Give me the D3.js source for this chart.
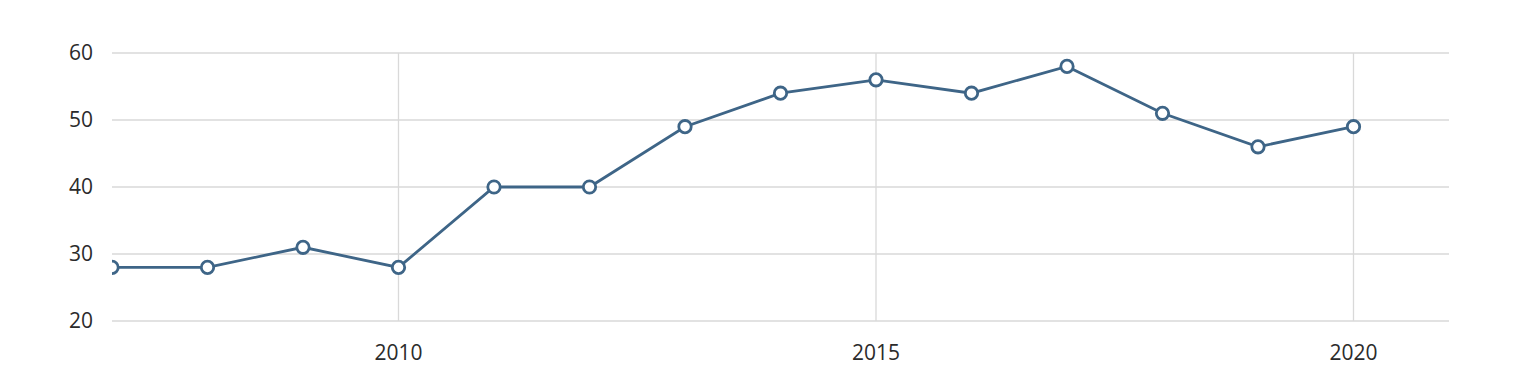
<!DOCTYPE html>
<html>
<head>
<meta charset="utf-8">
<script src="https://cdn.jsdelivr.net/npm/d3@7"></script>
<style>
  body { margin: 0; background: #fff; }
  svg { display: block; font-family: "Open Sans", "Noto Sans", sans-serif; }
</style>
</head>
<body>
<svg id="chart"></svg>
<script>
const width = 1525;
const height = 373;
const margin = { top: 53, right: 76, bottom: 52, left: 112 };

const years = [2007, 2008, 2009, 2010, 2011, 2012, 2013, 2014, 2015, 2016, 2017, 2018, 2019, 2020];
const values = [28, 28, 31, 28, 40, 40, 49, 54, 56, 54, 58, 51, 46, 49];
const yTicks = [20, 30, 40, 50, 60];
const xTicks = [2010, 2015, 2020];

const innerW = width - margin.left - margin.right;
const innerH = height - margin.top - margin.bottom;

const svg = d3.select("#chart")
    .attr("width", width)
    .attr("height", height);

const x = d3.scaleLinear()
    .domain([2007, 2021])
    .range([0, innerW]);

const y = d3.scaleLinear()
    .domain([20, 60])
    .range([innerH, 0]);

const g = svg.append("g")
    .attr("transform", `translate(${margin.left}, ${margin.top})`);

g.append("clipPath")
    .attr("id", "clip")
    .append("rect")
    .attr("width", innerW)
    .attr("height", innerH + 10)
    .attr("y", -10);

// horizontal grid lines
g.append("g")
    .selectAll("line")
    .data(yTicks)
    .enter()
    .append("line")
    .attr("x1", 0)
    .attr("x2", innerW)
    .attr("y1", d => y(d))
    .attr("y2", d => y(d))
    .attr("stroke", "#d9d9d9")
    .attr("stroke-width", 1.3);

// vertical grid lines
g.append("g")
    .selectAll("line")
    .data(xTicks)
    .enter()
    .append("line")
    .attr("x1", d => x(d))
    .attr("x2", d => x(d))
    .attr("y1", 0)
    .attr("y2", innerH)
    .attr("stroke", "#d9d9d9")
    .attr("stroke-width", 1.3);

// y labels
g.append("g")
    .selectAll("text")
    .data(yTicks)
    .enter()
    .append("text")
    .attr("x", -19)
    .attr("y", d => y(d))
    .attr("dy", "0.35em")
    .attr("text-anchor", "end")
    .attr("font-size", "21px")
    .attr("fill", "#2b2b2b")
    .text(d => d);

// x labels
g.append("g")
    .selectAll("text")
    .data(xTicks)
    .enter()
    .append("text")
    .attr("x", d => x(d))
    .attr("y", innerH + 32)
    .attr("dy", "0.35em")
    .attr("text-anchor", "middle")
    .attr("font-size", "21px")
    .attr("fill", "#2b2b2b")
    .text(d => d);

const pts = years.map((yr, i) => ({ year: yr, value: values[i] }));

const line = d3.line()
    .x(d => x(d.year))
    .y(d => y(d.value));

const plot = g.append("g").attr("clip-path", "url(#clip)");

plot.append("path")
    .datum(pts)
    .attr("d", line)
    .attr("fill", "none")
    .attr("stroke", "#3e6587")
    .attr("stroke-width", 2.8);

plot.selectAll("circle")
    .data(pts)
    .enter()
    .append("circle")
    .attr("cx", d => x(d.year))
    .attr("cy", d => y(d.value))
    .attr("r", 6.2)
    .attr("fill", "#fff")
    .attr("stroke", "#3e6587")
    .attr("stroke-width", 2.8);
</script>
</body>
</html>
